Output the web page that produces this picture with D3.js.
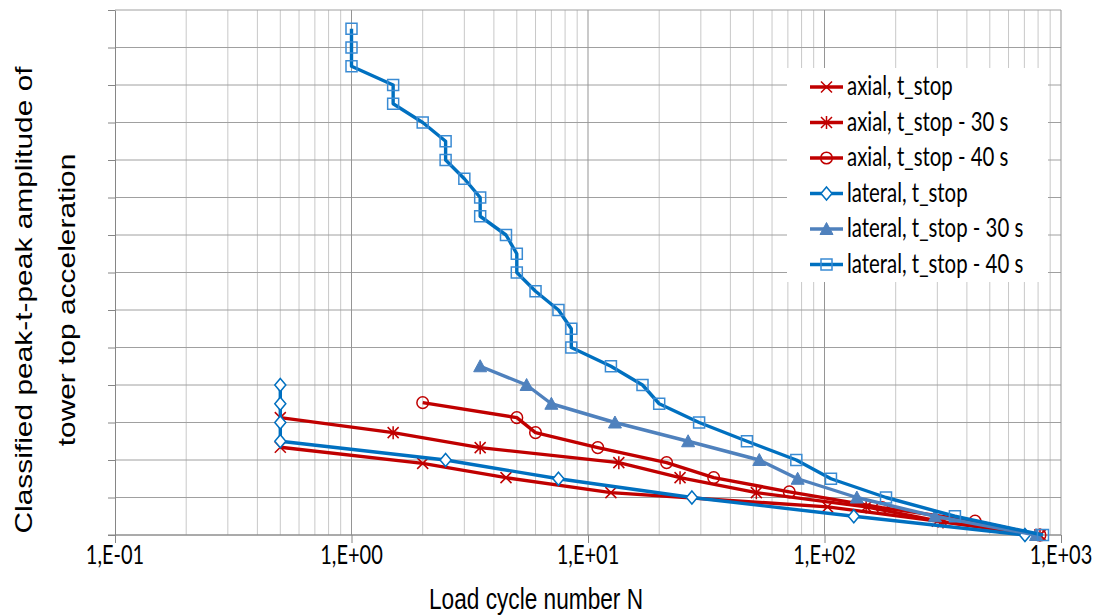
<!DOCTYPE html>
<html>
<head>
<meta charset="utf-8">
<script src="https://cdnjs.cloudflare.com/ajax/libs/d3/7.8.5/d3.min.js"></script>
<style>
body { margin: 0; background: #fff; }
</style>
</head>
<body>
<svg id="chart" width="1099" height="616"></svg>
<script>
// series data: load cycle number N (x) and classified amplitude (y)
var axialStopN = [0.5, 2, 4.5, 12.5, 103, 300, 815];
var axialStopY = [2.34, 1.91, 1.53, 1.13, 0.75, 0.37, 0];
var axial30N = [0.5, 1.5, 3.5, 13.5, 24.5, 51.5, 150, 317, 815];
var axial30Y = [3.13, 2.73, 2.33, 1.93, 1.53, 1.13, 0.75, 0.35, 0];
var axial40N = [2, 5, 6, 11, 21.5, 34, 71, 175, 433, 815];
var axial40Y = [3.53, 3.13, 2.73, 2.33, 1.93, 1.53, 1.15, 0.73, 0.37, 0];
var latStopN = [0.5, 0.5, 0.5, 0.5, 2.5, 7.5, 27.5, 133, 704];
var latStopY = [4, 3.5, 3, 2.5, 2, 1.5, 1, 0.5, 0];
var lat30N = [3.5, 5.5, 7, 13, 26.5, 53, 77, 137, 293, 784];
var lat30Y = [4.5, 4, 3.5, 3, 2.5, 2, 1.5, 1, 0.5, 0];
var lat40N = [1, 1, 1, 1.5, 1.5, 2, 2.5, 2.5, 3, 3.5, 3.5, 4.5, 5, 5, 6, 7.5, 8.5, 8.5,
              12.5, 17, 20, 29.5, 47, 76, 106.5, 182, 356, 839];
var lat40Y = [13.5, 13, 12.5, 12, 11.5, 11, 10.5, 10, 9.5, 9, 8.5, 8, 7.5, 7, 6.5, 6, 5.5, 5,
              4.5, 4, 3.5, 3, 2.5, 2, 1.5, 1, 0.5, 0];

var seriesNames = ["axial, t_stop", "axial, t_stop - 30 s", "axial, t_stop - 40 s",
                   "lateral, t_stop", "lateral, t_stop - 30 s", "lateral, t_stop - 40 s"];
var xTicks = [0.1, 1, 10, 100, 1000];
var xTickLabels = ["1,E-01", "1,E+00", "1,E+01", "1,E+02", "1,E+03"];
var yTicks = d3.range(0, 15);

var series = [
	{name: seriesNames[0], n: axialStopN, y: axialStopY, color: "#C00000", marker: "x"},
	{name: seriesNames[1], n: axial30N, y: axial30Y, color: "#C00000", marker: "star"},
	{name: seriesNames[2], n: axial40N, y: axial40Y, color: "#C00000", marker: "circle"},
	{name: seriesNames[3], n: latStopN, y: latStopY, color: "#0070C0", marker: "diamond"},
	{name: seriesNames[4], n: lat30N, y: lat30Y, color: "#4F81BD", marker: "triangle"},
	{name: seriesNames[5], n: lat40N, y: lat40Y, color: "#0070C0", marker: "square"}
];

var plotLeft = 115, plotRight = 1061, plotTop = 10, plotBottom = 535;
var stretch = 1.3; // text in the picture is taller than it is wide
var svg = d3.select("#chart");

var x = d3.scaleLog().domain([0.1, 1000]).range([plotLeft, plotRight]);
var y = d3.scaleLinear().domain([0, 14]).range([plotBottom, plotTop]);

// minor vertical grid
var minor = [];
xTicks.slice(0, 4).forEach(function(d) {
	for (var k = 2; k <= 9; k++) minor.push(d * k);
});
svg.append("g").selectAll("line").data(minor).enter().append("line")
	.attr("x1", function(d) { return x(d); }).attr("x2", function(d) { return x(d); })
	.attr("y1", plotTop).attr("y2", plotBottom)
	.attr("stroke", "#c8c8c8").attr("stroke-width", 1);

// horizontal grid
svg.append("g").selectAll("line").data(yTicks).enter().append("line")
	.attr("x1", plotLeft).attr("x2", plotRight)
	.attr("y1", function(d) { return y(d); }).attr("y2", function(d) { return y(d); })
	.attr("stroke", "#a0a0a0").attr("stroke-width", 1);

// major vertical grid
svg.append("g").selectAll("line").data(xTicks.slice(1)).enter().append("line")
	.attr("x1", function(d) { return x(d); }).attr("x2", function(d) { return x(d); })
	.attr("y1", plotTop).attr("y2", plotBottom)
	.attr("stroke", "#959595").attr("stroke-width", 1);

// y axis (ticks only, no labels)
var yAxis = svg.append("g").attr("transform", "translate(" + plotLeft + ",0)")
	.call(d3.axisLeft(y).tickValues(yTicks).tickFormat("").tickSize(7).tickSizeOuter(0));
yAxis.selectAll("path, line").attr("stroke", "#868686");

// x axis
var xAxis = svg.append("g").attr("transform", "translate(0," + plotBottom + ")")
	.call(d3.axisBottom(x).tickValues(xTicks).tickFormat("").tickSize(8).tickSizeOuter(0));
xAxis.selectAll("path, line").attr("stroke", "#868686");
xAxis.select(".domain").attr("d", "M" + (plotLeft - 7) + ",0H" + plotRight);

svg.append("g").selectAll("text").data(xTicks).enter().append("text")
	.attr("transform", function(d) { return "translate(" + x(d) + ",564) scale(1," + stretch + ")"; })
	.attr("text-anchor", "middle").attr("font-family", "Lato, sans-serif").attr("font-size", "20px")
	.text(function(d, i) { return xTickLabels[i]; });

// axis titles
svg.append("text").attr("transform", "translate(536,609) scale(1.03," + stretch + ")")
	.attr("text-anchor", "middle")
	.attr("font-family", "Liberation Sans, Arial, sans-serif").attr("font-size", "22px")
	.text("Load cycle number N");
var yTitle = svg.append("text").attr("transform", "translate(32,300) rotate(-90) scale(1.36,1.05)")
	.attr("text-anchor", "middle").attr("font-family", "Liberation Sans, Arial, sans-serif").attr("font-size", "22px");
yTitle.append("tspan").attr("x", 0).attr("y", 0).text("Classified peak-t-peak amplitude  of");
yTitle.append("tspan").attr("x", 0).attr("y", 41).text("tower top acceleration");

// marker drawing
function drawMarker(g, type, color) {
	if (type === "x") {
		g.append("path").attr("d", "M-5.5,-5.5L5.5,5.5M-5.5,5.5L5.5,-5.5").attr("stroke", color).attr("stroke-width", 1.5).attr("fill", "none");
	} else if (type === "star") {
		g.append("path").attr("d", "M-5.5,-5.5L5.5,5.5M-5.5,5.5L5.5,-5.5M0,-6.5L0,6.5").attr("stroke", color).attr("stroke-width", 1.5).attr("fill", "none");
	} else if (type === "circle") {
		g.append("circle").attr("r", 5.8).attr("stroke", color).attr("stroke-width", 1.5).attr("fill", "none");
	} else if (type === "diamond") {
		g.append("path").attr("d", "M0,-6.5L5.5,0L0,6.5L-5.5,0Z").attr("stroke", color).attr("stroke-width", 1.5).attr("fill", "#fff");
	} else if (type === "triangle") {
		g.append("path").attr("d", "M0,-6.5L6.5,5.5L-6.5,5.5Z").attr("fill", color).attr("stroke", color).attr("stroke-width", 1);
	} else if (type === "square") {
		g.append("rect").attr("x", -5.5).attr("y", -5.5).attr("width", 11).attr("height", 11)
			.attr("stroke", "#3a8bd3").attr("stroke-width", 1.5).attr("fill", "none");
	}
}

var line = d3.line().x(function(d) { return x(d[0]); }).y(function(d) { return y(d[1]); });

series.forEach(function(s) {
	var pts = s.n.map(function(v, i) { return [v, s.y[i]]; });
	var g = svg.append("g");
	g.append("path").datum(pts).attr("d", line)
		.attr("fill", "none").attr("stroke", s.color).attr("stroke-width", 3.4)
		.attr("stroke-linejoin", "round");
	g.selectAll("g.m").data(pts).enter().append("g").attr("class", "m")
		.attr("transform", function(d) { return "translate(" + x(d[0]) + "," + y(d[1]) + ")"; })
		.each(function() { drawMarker(d3.select(this), s.marker, s.color); });
});

// legend
var legend = svg.append("g");
legend.append("rect").attr("x", 787).attr("y", 68).attr("width", 261).attr("height", 214).attr("fill", "#fff");
series.forEach(function(s, i) {
	var ly = 87 + i * 35.5;
	legend.append("line").attr("x1", 810).attr("x2", 843).attr("y1", ly).attr("y2", ly)
		.attr("stroke", s.color).attr("stroke-width", 3.4);
	drawMarker(legend.append("g").attr("transform", "translate(826.5," + ly + ")"), s.marker, s.color);
	legend.append("text").attr("transform", "translate(847," + (ly + 8) + ") scale(1," + stretch + ")")
		.attr("font-family", "Lato, sans-serif").attr("font-size", "20.4px").text(s.name);
});
</script>
</body>
</html>
